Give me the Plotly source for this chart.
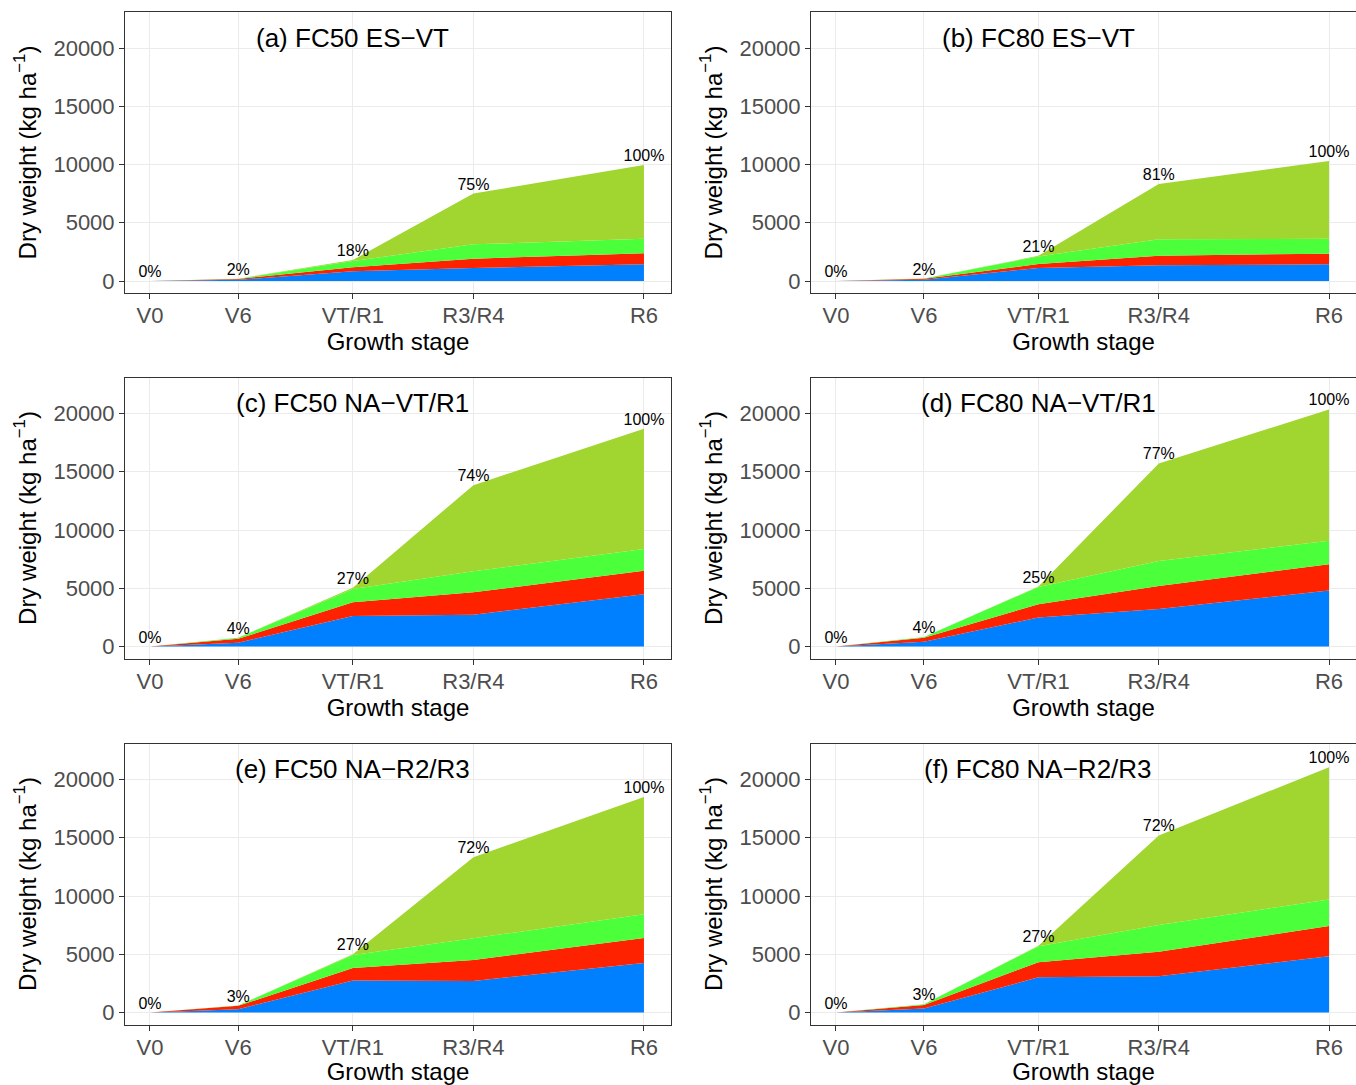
import plotly.graph_objects as go
from plotly.subplots import make_subplots

# ---------------- data ----------------
stage_labels = ["V0", "V6", "VT/R1", "R3/R4", "R6"]
stage_pos = [0, 30, 69, 110, 168]

panel_titles = ["(a) FC50 ES\u2212VT", "(b) FC80 ES\u2212VT",
                "(c) FC50 NA\u2212VT/R1", "(d) FC80 NA\u2212VT/R1",
                "(e) FC50 NA\u2212R2/R3", "(f) FC80 NA\u2212R2/R3"]

# bottom (blue) layer, per panel a..f
leaf = [[0, 100, 830, 1115, 1430],
        [0, 100, 1115, 1344, 1430],
        [0, 320, 2615, 2730, 4483],
        [0, 400, 2500, 3219, 4800],
        [0, 280, 2740, 2712, 4241],
        [0, 350, 3020, 3108, 4835]]
# second (red) layer
stem = [[0, 80, 340, 800, 945],
        [0, 90, 345, 830, 915],
        [0, 340, 1180, 1926, 2012],
        [0, 360, 1120, 1983, 2270],
        [0, 290, 1070, 1788, 2164],
        [0, 300, 1295, 2101, 2590]]
# third (green) layer
husk = [[0, 20, 540, 1230, 1260],
        [0, 15, 650, 1400, 1290],
        [0, 90, 1150, 1811, 1868],
        [0, 60, 1495, 2127, 2012],
        [0, 30, 1130, 1876, 2019],
        [0, 50, 1380, 2303, 2274]]
# top (yellow-green) layer
ear = [[0, 0, 90, 4355, 6315],
       [0, 0, 50, 4756, 6665],
       [0, 0, 100, 7383, 10337],
       [0, 0, 35, 8381, 11268],
       [0, 0, 55, 6944, 10076],
       [0, 0, 30, 7688, 11351]]

pct_labels = [["0%", "2%", "18%", "75%", "100%"],
              ["0%", "2%", "21%", "81%", "100%"],
              ["0%", "4%", "27%", "74%", "100%"],
              ["0%", "4%", "25%", "77%", "100%"],
              ["0%", "3%", "27%", "72%", "100%"],
              ["0%", "3%", "27%", "72%", "100%"]]

layer_names = ["Leaf", "Stem", "Husk", "Ear"]
layer_colors = ["#0080FF", "#FF2200", "#4BFF3A", "#A1D52F"]

# ---------------- figure ----------------
W, H = 1356, 1085
fig = make_subplots(rows=3, cols=2)

col_left = [125, 811]
col_right = [671, 1357]
row_top = [12, 377.5, 743.5]
box_h = 281

FONT = "Liberation Sans, Arial, Helvetica, sans-serif"

for i in range(6):
    r, c = i // 2 + 1, i % 2 + 1
    layers = [leaf[i], stem[i], husk[i], ear[i]]
    for name, vals, col in zip(layer_names, layers, layer_colors):
        fig.add_trace(go.Scatter(
            x=stage_pos, y=vals, name=name, mode="none",
            stackgroup="s%d" % i, fillcolor=col, line=dict(width=0),
            showlegend=False, hoverinfo="x+y+name"), row=r, col=c)
    totals = [a + b + cc + d for a, b, cc, d in zip(*layers)]
    fig.add_trace(go.Scatter(
        x=stage_pos, y=totals, mode="text", text=pct_labels[i],
        textposition="top center", cliponaxis=False,
        textfont=dict(size=16, color="black", family=FONT),
        showlegend=False, hoverinfo="skip"), row=r, col=c)

    idx = "" if i == 0 else str(i + 1)
    xd = [col_left[c - 1] / W, min(col_right[c - 1] / W, 1.0)]
    top = row_top[r - 1]
    yd = [(H - (top + box_h)) / H, (H - top) / H]
    fig.layout["xaxis" + idx].update(
        domain=xd, range=[-8.5, 177.2],
        tickvals=stage_pos, ticktext=stage_labels,
        showgrid=True, gridcolor="#EBEBEB", gridwidth=1,
        zeroline=False, showline=True, mirror=True,
        linecolor="#333333", linewidth=1,
        ticks="outside", ticklen=5, tickcolor="#333333",
        ticklabelstandoff=-2,
        tickfont=dict(size=22, color="#4D4D4D", family=FONT),
        title=dict(text="Growth stage", standoff=0,
                   font=dict(size=24, color="black", family=FONT)))
    fig.layout["yaxis" + idx].update(
        domain=yd, range=[-1030, 23090],
        tickvals=[0, 5000, 10000, 15000, 20000],
        ticktext=["0", "5000", "10000", "15000", "20000"],
        showgrid=True, gridcolor="#EBEBEB", gridwidth=1,
        zeroline=False, showline=True, mirror=True,
        linecolor="#333333", linewidth=1,
        ticks="outside", ticklen=5, tickcolor="#333333",
        tickfont=dict(size=22, color="#4D4D4D", family=FONT),
        title=dict(text="Dry weight (kg ha<sup>\u22121</sup>)", standoff=10,
                   font=dict(size=24, color="black", family=FONT)))
    fig.add_annotation(
        x=69, y=20860, xref="x" + idx, yref="y" + idx,
        text=panel_titles[i], showarrow=False,
        font=dict(size=26, color="black", family=FONT),
        xanchor="center", yanchor="middle")

fig.update_layout(
    width=W, height=H,
    margin=dict(l=0, r=0, t=0, b=0),
    paper_bgcolor="white", plot_bgcolor="white",
    font=dict(family=FONT),
    showlegend=False)

fig.write_html("out.html")
